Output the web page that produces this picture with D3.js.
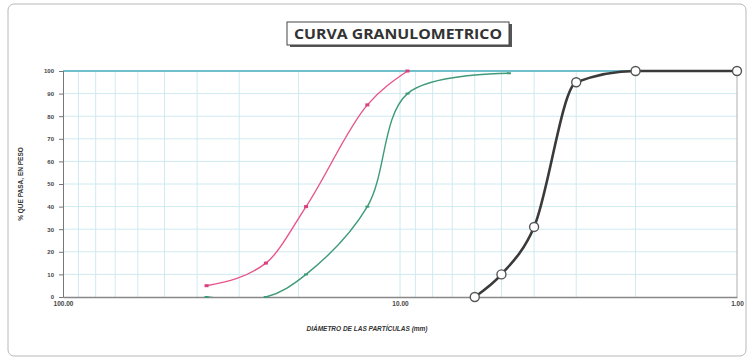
<!DOCTYPE html>
<html>
<head>
<meta charset="utf-8">
<script src="https://cdn.jsdelivr.net/npm/d3@7"></script>
<style>
  html, body { margin: 0; padding: 0; background: #fff; }
  svg { display: block; }
  text { font-family: "Liberation Sans", Arial, sans-serif; }
</style>
</head>
<body>
<svg id="chart" width="750" height="360"></svg>
<script>
// Sieve sizes (mm) and percent passing for each gradation curve
const sizesPink  = [37.5, 25, 19, 12.5, 9.5];
const passPink   = [5, 15, 40, 85, 100];
const sizesGreen = [37.5, 25, 19, 12.5, 9.5, 4.75];
const passGreen  = [0, 0, 10, 40, 90, 99];
const sizesBlack = [6, 5, 4, 3, 2, 1];
const passBlack  = [0, 10, 31, 95, 100, 100];

const xTickValues = [100, 10, 1];
const xTickLabels = ["100.00", "10.00", "1.00"];
const yTickValues = [0, 10, 20, 30, 40, 50, 60, 70, 80, 90, 100];

const svg = d3.select("#chart");
const plotLeft = 63, plotRight = 737, plotTop = 71, plotBottom = 297;

// Log scale, reversed: coarse sizes on the left
const x = d3.scaleLog().domain([100, 1]).range([plotLeft, plotRight]);
const y = d3.scaleLinear().domain([0, 100]).range([plotBottom, plotTop]);

// Clip region for the smoothed curves
svg.append("defs").append("clipPath").attr("id", "plot-clip")
  .append("rect")
  .attr("x", plotLeft).attr("y", plotTop - 4)
  .attr("width", plotRight - plotLeft + 4).attr("height", plotBottom - plotTop + 4);

// Outer frame
svg.append("rect")
  .attr("x", 8).attr("y", 4).attr("width", 738).attr("height", 352)
  .attr("rx", 6)
  .attr("fill", "none").attr("stroke", "#b8b8b8").attr("stroke-width", 1);

// Title box with shadow
svg.append("rect")
  .attr("x", 290).attr("y", 24).attr("width", 222).attr("height", 23)
  .attr("fill", "#555");
svg.append("rect")
  .attr("x", 287).attr("y", 22).attr("width", 222).attr("height", 23)
  .attr("fill", "#fff").attr("stroke", "#444").attr("stroke-width", 1);
svg.append("text")
  .attr("x", 398).attr("y", 39)
  .attr("text-anchor", "middle")
  .attr("font-size", 15).attr("font-weight", "bold")
  .attr("fill", "#333")
  .attr("textLength", 208).attr("lengthAdjust", "spacingAndGlyphs")
  .style("font-family", "'Open Sans', sans-serif")
  .text("CURVA GRANULOMETRICO");

// Plot area
const g = svg.append("g");
g.append("rect")
  .attr("x", plotLeft).attr("y", plotTop)
  .attr("width", plotRight - plotLeft).attr("height", plotBottom - plotTop)
  .attr("fill", "#fff");

// Vertical log grid (minor lines each decade)
const vGrid = [];
for (const dec of [10, 1]) {
  for (let k = 2; k <= 9; k++) vGrid.push(k * dec);
}
vGrid.push(10);
g.selectAll("line.vg").data(vGrid).join("line")
  .attr("class", "vg")
  .attr("x1", d => x(d)).attr("x2", d => x(d))
  .attr("y1", plotTop).attr("y2", plotBottom)
  .attr("stroke", "#cfeaf0").attr("stroke-width", 1);

// Horizontal grid
g.selectAll("line.hg").data(yTickValues.filter(v => v > 0 && v < 100)).join("line")
  .attr("class", "hg")
  .attr("x1", plotLeft).attr("x2", plotRight)
  .attr("y1", d => y(d)).attr("y2", d => y(d))
  .attr("stroke", "#cfeaf0").attr("stroke-width", 1);

// Right border and top line at 100 %
g.append("line")
  .attr("x1", plotRight).attr("x2", plotRight).attr("y1", plotTop).attr("y2", plotBottom)
  .attr("stroke", "#b0b0b0").attr("stroke-width", 1);
g.append("line")
  .attr("x1", plotLeft).attr("x2", plotRight).attr("y1", y(100)).attr("y2", y(100))
  .attr("stroke", "#6fbfcc").attr("stroke-width", 2);

// Axes
const yAxis = d3.axisLeft(y).tickValues(yTickValues).tickSize(4).tickFormat(d3.format("d"));
const yG = svg.append("g").attr("transform", `translate(${plotLeft},0)`).call(yAxis);
yG.select(".domain").attr("stroke", "#777");
yG.selectAll(".tick line").attr("stroke", "#777");
yG.selectAll(".tick text").attr("font-size", 6).attr("font-weight", "bold").attr("fill", "#444").attr("dx", -2);

const xAxis = d3.axisBottom(x).tickValues(xTickValues).tickSize(0)
  .tickFormat((d, i) => xTickLabels[i]);
const xG = svg.append("g").attr("transform", `translate(0,${plotBottom})`).call(xAxis);
xG.select(".domain").attr("stroke", "#888").attr("stroke-width", 1.5);
xG.selectAll(".tick text").attr("font-size", 6.5).attr("font-weight", "bold").attr("fill", "#444").attr("dy", 6);

// Axis titles
svg.append("text")
  .attr("transform", "translate(23,184) rotate(-90)")
  .attr("text-anchor", "middle")
  .attr("font-size", 6.5).attr("font-weight", "bold").attr("fill", "#333")
  .text("% QUE PASA, EN PESO");
svg.append("text")
  .attr("x", 367).attr("y", 331)
  .attr("text-anchor", "middle")
  .attr("font-size", 6.5).attr("font-weight", "bold").attr("font-style", "italic").attr("fill", "#333")
  .text("DIÁMETRO DE LAS PARTÍCULAS (mm)");

// Curves (smoothed through the sieve points)
const zip = (a, b) => a.map((v, i) => [v, b[i]]);
const lineOf = curve => d3.line().x(d => x(d[0])).y(d => y(d[1])).curve(curve);
const curves = svg.append("g");

function drawSeries(data, color, width, curve) {
  curves.append("path").datum(data)
    .attr("d", lineOf(curve))
    .attr("clip-path", "url(#plot-clip)")
    .attr("fill", "none").attr("stroke", color).attr("stroke-width", width);
}

const pink = zip(sizesPink, passPink);
const green = zip(sizesGreen, passGreen);
const black = zip(sizesBlack, passBlack);

drawSeries(pink, "#e8558c", 1.4, d3.curveMonotoneX);
drawSeries(green, "#3f9a78", 1.4, d3.curveCatmullRom.alpha(0.5));
drawSeries(black, "#3a3a3a", 2.6, d3.curveMonotoneX);

// Small markers on pink and green
curves.selectAll("rect.pm").data(pink).join("rect")
  .attr("class", "pm")
  .attr("x", d => x(d[0]) - 2).attr("y", d => y(d[1]) - 1.5)
  .attr("width", 4).attr("height", 3)
  .attr("fill", "#d84080");
curves.selectAll("rect.gm").data(green).join("rect")
  .attr("class", "gm")
  .attr("x", d => x(d[0]) - 2).attr("y", d => y(d[1]) - 1)
  .attr("width", 4).attr("height", 2)
  .attr("fill", "#3f9a78");

// Open circle markers on black
curves.selectAll("circle.bm").data(black).join("circle")
  .attr("class", "bm")
  .attr("cx", d => x(d[0])).attr("cy", d => y(d[1]))
  .attr("r", 4.5)
  .attr("fill", "#fff").attr("stroke", "#555").attr("stroke-width", 1.4);
</script>
</body>
</html>
